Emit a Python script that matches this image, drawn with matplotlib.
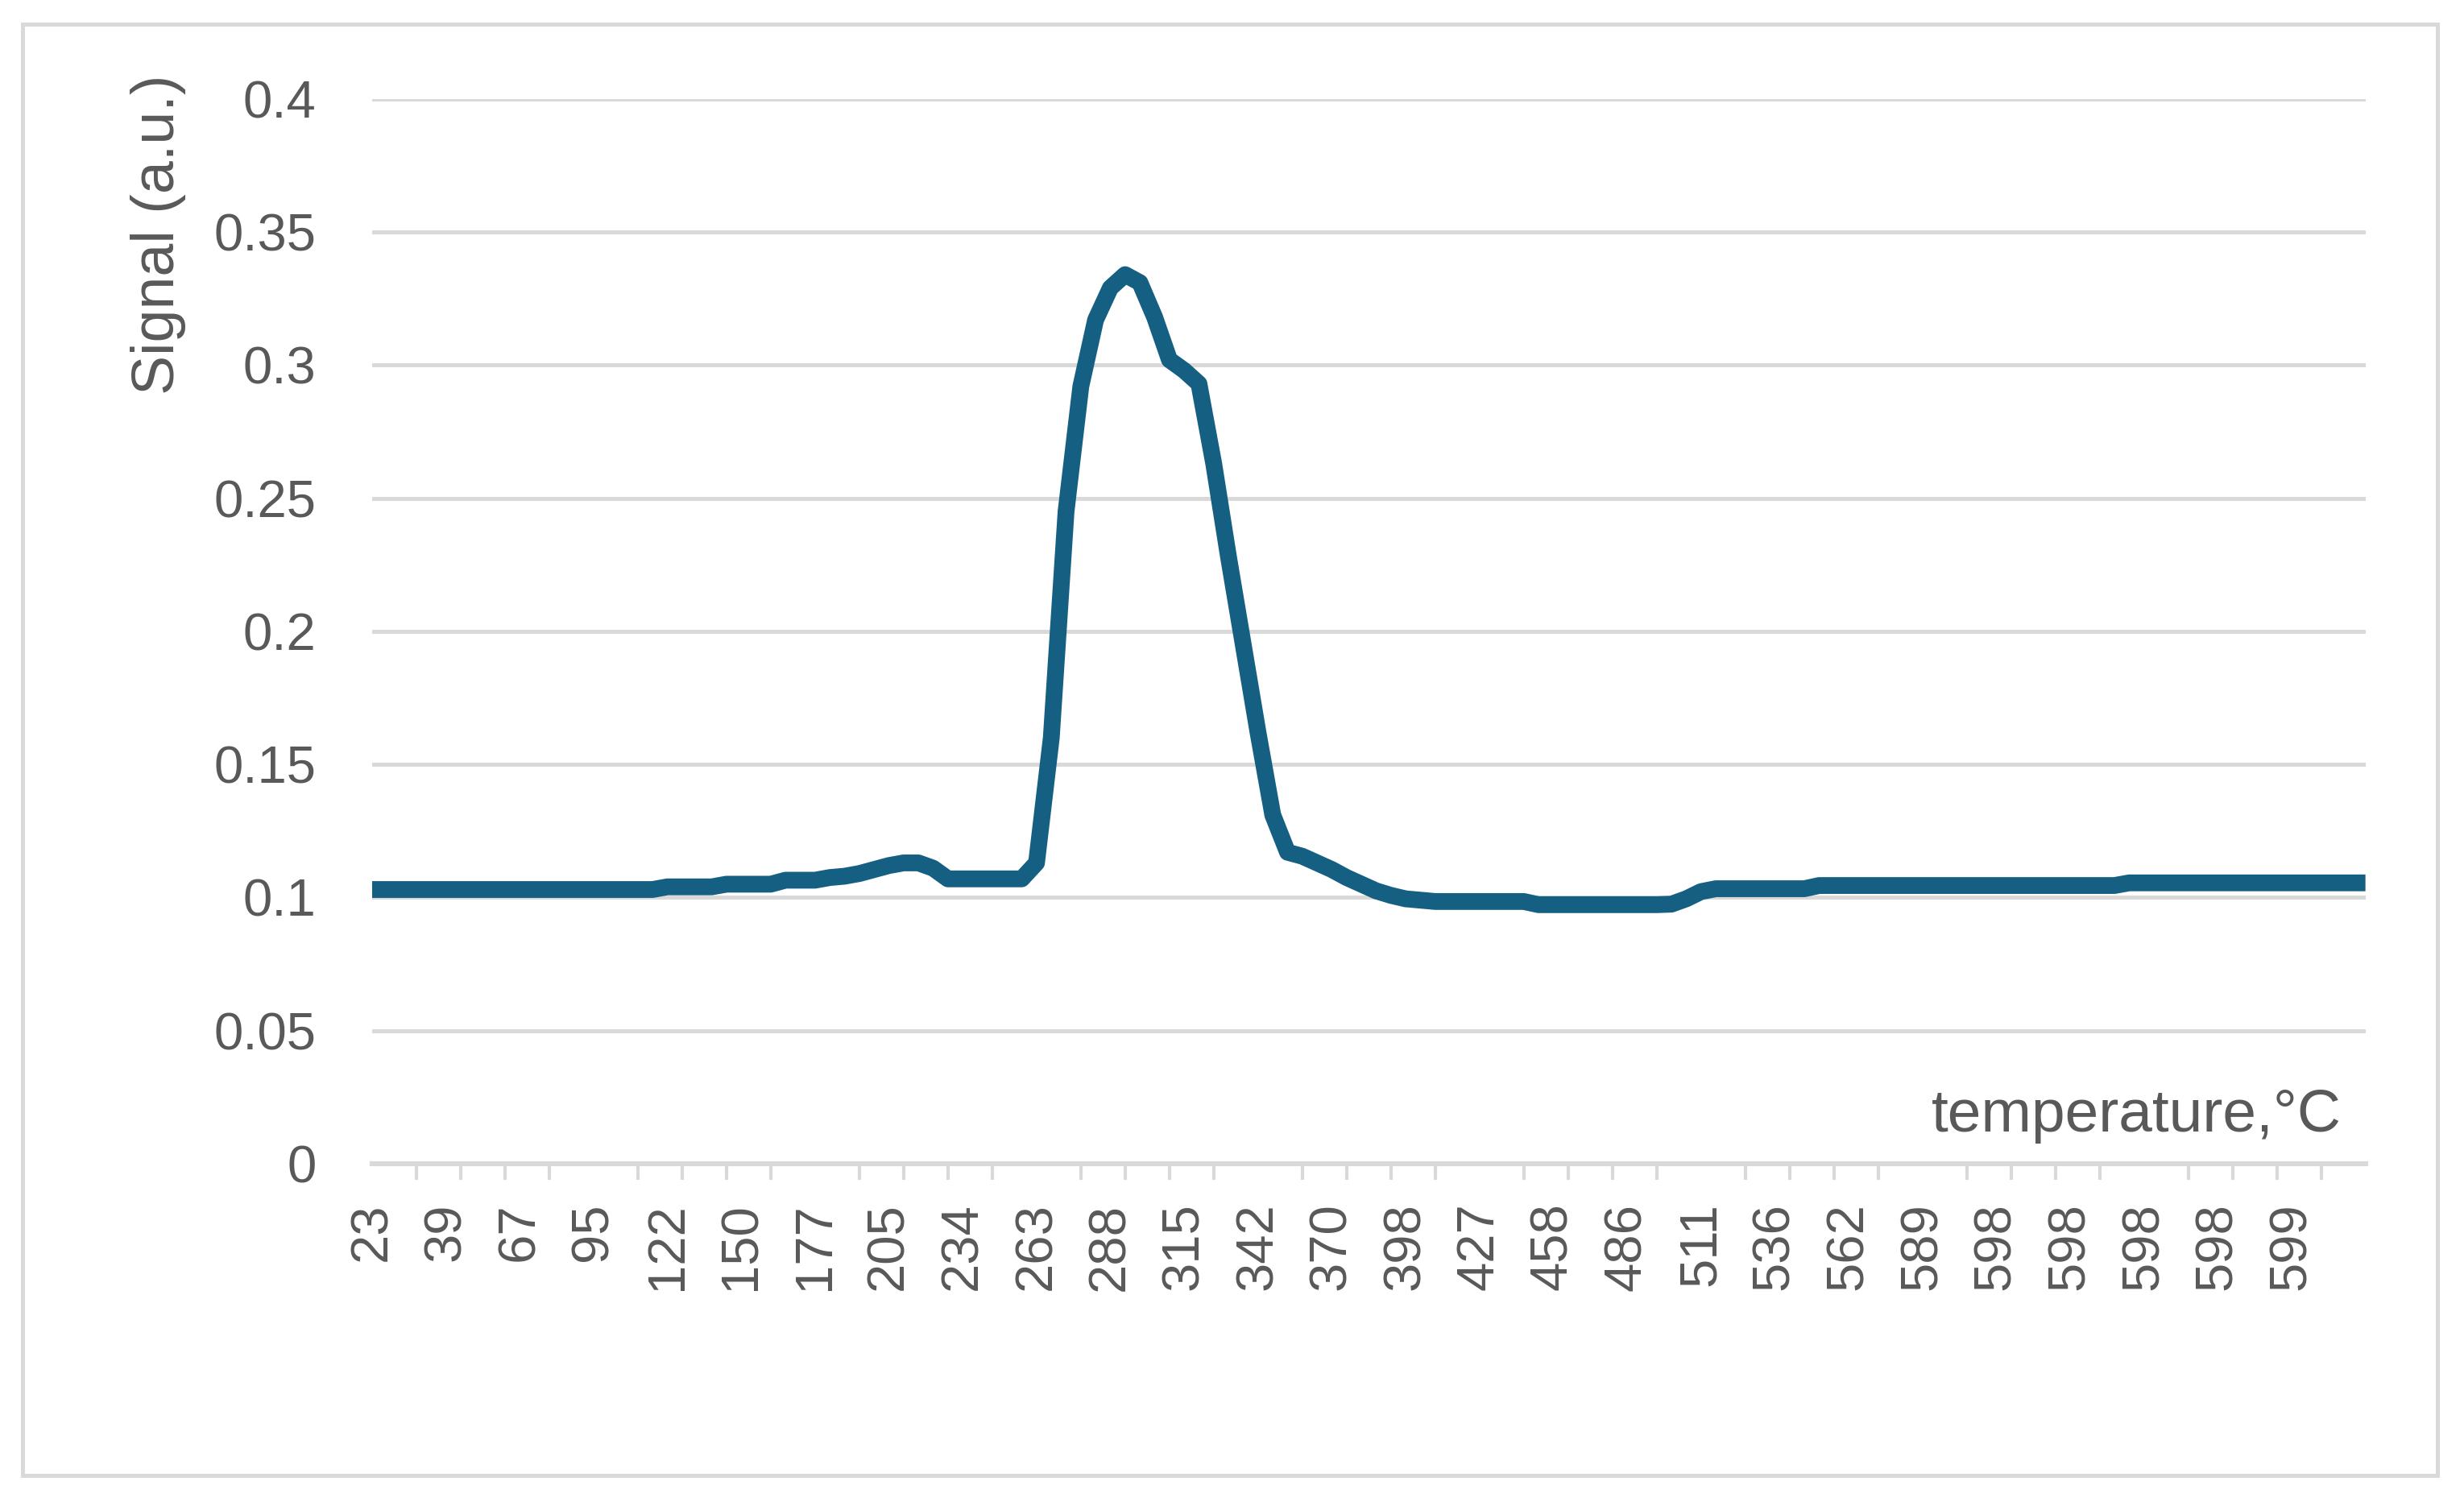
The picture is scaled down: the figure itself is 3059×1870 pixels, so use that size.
# plot.py
# Signal vs temperature line chart (Excel style)

import matplotlib
matplotlib.use("Agg")
import matplotlib.pyplot as plt
from matplotlib.patches import Rectangle

# Temperature labels shown under every 5th sample
tempLabels = ['23', '39', '67', '95', '122', '150', '177', '205', '234',
              '263', '288', '315', '342', '370', '398', '427', '458', '486',
              '511', '536', '562', '589', '598', '598', '598', '598', '599']

# Signal values, one per sample
signal = [
    0.103, 0.103, 0.103, 0.103, 0.103, 0.103, 0.103, 0.103, 0.103, 0.103,
    0.103, 0.103, 0.103, 0.103, 0.103, 0.103, 0.103, 0.103, 0.103, 0.103,
    0.104, 0.104, 0.104, 0.104, 0.105, 0.105, 0.105, 0.105, 0.1065, 0.1065,
    0.1065, 0.1075, 0.108, 0.109, 0.1105, 0.112, 0.113, 0.113, 0.111, 0.107,
    0.107, 0.107, 0.107, 0.107, 0.107, 0.113, 0.16, 0.245, 0.292, 0.317,
    0.329, 0.334, 0.331, 0.318, 0.302, 0.298, 0.293, 0.263, 0.228, 0.195,
    0.162, 0.131, 0.117, 0.1155, 0.113, 0.1105, 0.1075, 0.105, 0.1025, 0.1008,
    0.0995, 0.099, 0.0985, 0.0985, 0.0985, 0.0985, 0.0985, 0.0985, 0.0985, 0.0973,
    0.0973, 0.0973, 0.0973, 0.0973, 0.0973, 0.0973, 0.0973, 0.0973, 0.0975, 0.0995,
    0.1022, 0.1033, 0.1033, 0.1033, 0.1033, 0.1033, 0.1033, 0.1033, 0.1045, 0.1045,
    0.1045, 0.1045, 0.1045, 0.1045, 0.1045, 0.1045, 0.1045, 0.1045, 0.1045, 0.1045,
    0.1045, 0.1045, 0.1045, 0.1045, 0.1045, 0.1045, 0.1045, 0.1045, 0.1045, 0.1055,
    0.1055, 0.1055, 0.1055, 0.1055, 0.1055, 0.1055, 0.1055, 0.1055, 0.1055, 0.1055,
    0.1055, 0.1055, 0.1055, 0.1055, 0.1055, 0.1055,
]

yTicks = [0, 0.05, 0.1, 0.15, 0.2, 0.25, 0.3, 0.35, 0.4]
yTickLabels = ['0', '0.05', '0.1', '0.15', '0.2', '0.25', '0.3', '0.35', '0.4']

lineColour = '#156082'
gridColour = '#d9d9d9'
textColour = '#595959'

plt.rcParams['font.family'] = ['Liberation Sans', 'DejaVu Sans']

fig = plt.figure(figsize=(15.295, 9.35), dpi=200)
ax = fig.add_axes([0.151, 0.2273, 0.809, 0.7070])

x = list(range(len(signal)))
ax.plot(x, signal, color=lineColour, linewidth=7.5,
        solid_joinstyle='round', solid_capstyle='butt', zorder=3)

# Axis limits and ticks
ax.set_xlim(0, len(signal) - 1)
ax.set_ylim(0, 0.4)
ax.set_yticks(yTicks)
ax.set_yticklabels(yTickLabels)
ax.set_xticks(range(0, 5 * len(tempLabels), 5))
ax.set_xticklabels(tempLabels, rotation=90)
ax.set_xticks(range(0, len(signal) - 1, 3), minor=True)

ax.tick_params(axis='y', length=0, pad=25, labelsize=23.5, labelcolor=textColour)
ax.tick_params(axis='x', which='major', length=0, pad=17.5,
               labelsize=23.5, labelcolor=textColour)
ax.tick_params(axis='x', which='minor', length=7.2, width=1.5, color=gridColour)

# Grid and spines
ax.grid(axis='y', color=gridColour, linewidth=1.8)
ax.set_axisbelow(True)
for side in ['top', 'right', 'left']:
    ax.spines[side].set_visible(False)
ax.spines['bottom'].set_color(gridColour)
ax.spines['bottom'].set_linewidth(2.2)

# Axis titles
fig.text(0.0644, 0.8444, 'Signal (a.u.)', rotation=90, ha='center', va='center',
         fontsize=26.5, color=textColour)
ax.text(0.988, 0.03, 'temperature,°C', transform=ax.transAxes,
        ha='right', va='baseline', fontsize=27, color=textColour)

# Chart border
fig.patches.append(Rectangle((0.00915, 0.0203), 0.98, 0.9636, transform=fig.transFigure,
                             fill=False, edgecolor=gridColour, linewidth=1.8))

fig.savefig('out.png', dpi=200)
